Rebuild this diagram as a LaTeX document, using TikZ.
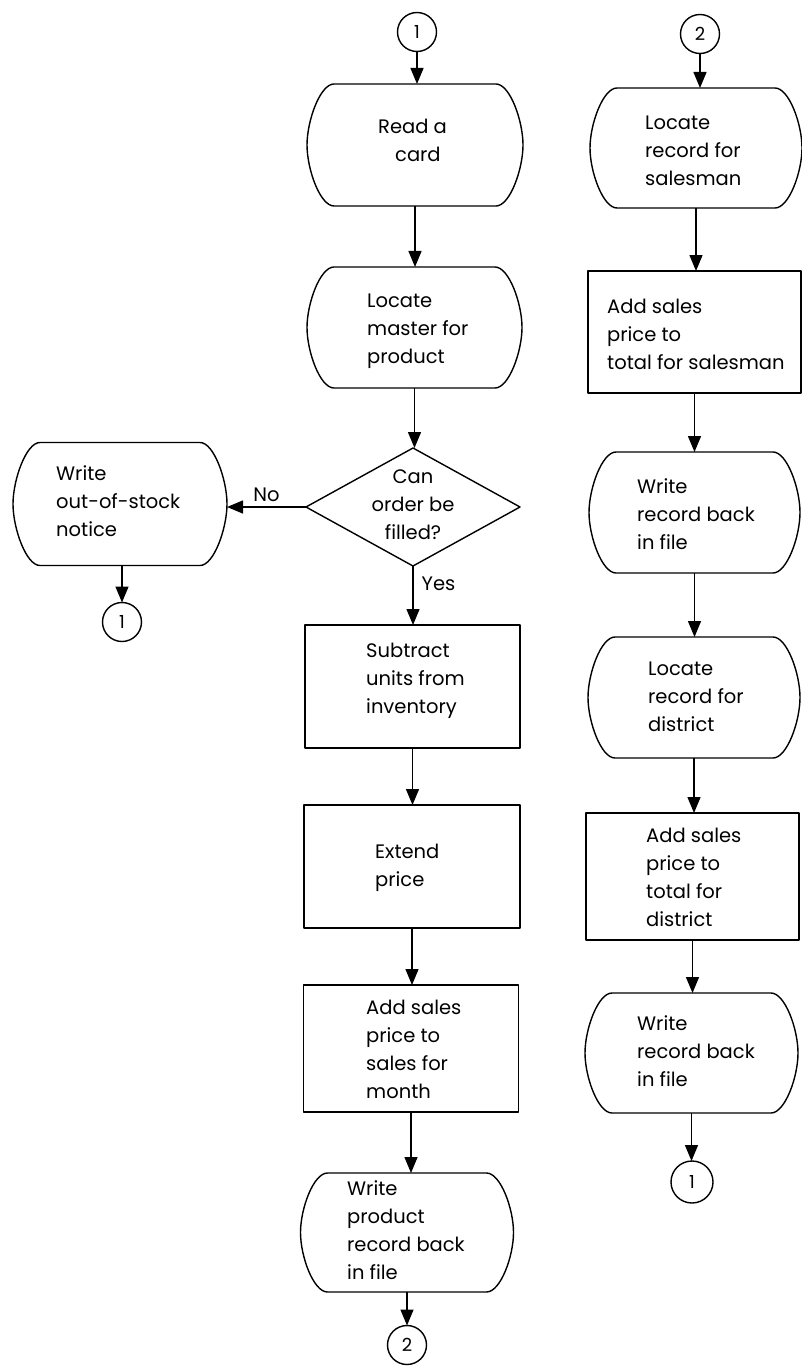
\documentclass[tikz,border=0pt]{standalone}
\usepackage{fontspec}
\setmainfont{Poppins}
\usetikzlibrary{arrows.meta,calc,shapes.geometric}

% outline of a storage step: flat top and bottom, bowed sides
\newcommand\bowsides[1]{%
  \draw[base]
    ($(#1.north west)+(27,0)$) -- ($(#1.north east)+(-27,0)$)
    .. controls ($(#1.north east)+(-13,0)$) and ($(#1.east)+(0,-24)$) .. (#1.east)
    .. controls ($(#1.east)+(0,24)$) and ($(#1.south east)+(-13,0)$) .. ($(#1.south east)+(-27,0)$)
    -- ($(#1.south west)+(27,0)$)
    .. controls ($(#1.south west)+(13,0)$) and ($(#1.west)+(0,24)$) .. (#1.west)
    .. controls ($(#1.west)+(0,-24)$) and ($(#1.north west)+(13,0)$) .. cycle;}

\begin{document}
\begin{tikzpicture}[x=1pt,y=-1pt,
  base/.style={line width=1.4pt,line join=round},
  io/.style 2 args={minimum width=#1, minimum height=#2, inner sep=0, outer sep=0},
  proc/.style 2 args={draw, base, minimum width=#1, minimum height=#2, inner sep=0, outer sep=0},
  decide/.style={draw, base, diamond, aspect=1.81, minimum width=214, minimum height=118, inner sep=0, outer sep=0},
  conn/.style={draw, base, circle, minimum size=#1, inner sep=0, outer sep=0, font=\fontsize{18}{20}\selectfont},
  conn/.default=39,
  arr/.style={base, -{Triangle[length=16pt,width=13pt]}},
  txt/.style={anchor=base west, inner sep=0, font=\fontsize{19.5}{28}\selectfont},
  lbl/.style={inner sep=0, font=\fontsize{19.5}{28}\selectfont},
]
\useasboundingbox (0,0) rectangle (802,1372);
\fill[white] (0,0) rectangle (802,1372);

% ---- product column ----
\node[conn] (c1top) at (417,32) {1};
\node[io={216}{122}] (read) at (415,145) {};
\bowsides{read}
\node[txt] (tread) at (378,134) {\begin{tabular}[t]{@{}l@{}}Read a\\\hspace{17pt}card\end{tabular}};

\node[io={215}{121}] (locm) at (414.5,327.5) {};
\bowsides{locm}
\node[txt] (tlocm) at (367,307) {\begin{tabular}[t]{@{}l@{}}Locate\\master for\\product\end{tabular}};

\node[decide] (dec) at (413,507) {};
\node[txt,anchor=base] (tdec) at (413,483) {\begin{tabular}[t]{@{}c@{}}Can\\order be\\filled?\end{tabular}};

\node[io={214}{123}] (oos) at (120,504) {};
\bowsides{oos}
\node[txt] (toos) at (56,480) {\begin{tabular}[t]{@{}l@{}}Write\\out-of-stock\\notice\end{tabular}};
\node[conn] (c1left) at (122,622) {1};

\node[proc={215}{123}] (sub) at (412.5,686.5) {};
\node[txt] (tsub) at (366,657) {\begin{tabular}[t]{@{}l@{}}Subtract\\units from\\inventory\end{tabular}};

\node[proc={216}{123}] (ext) at (412,866.5) {};
\node[txt] (text) at (375,858) {\begin{tabular}[t]{@{}l@{}}Extend\\price\end{tabular}};

\node[proc={215}{127}] (addm) at (411,1048.5) {};
\node[txt] (taddm) at (366,1014) {\begin{tabular}[t]{@{}l@{}}Add sales\\price to\\sales for\\month\end{tabular}};

\node[io={213}{119}] (wprod) at (407,1232.5) {};
\bowsides{wprod}
\node[txt] (twprod) at (347,1195) {\begin{tabular}[t]{@{}l@{}}Write\\product\\record back\\in file\end{tabular}};
\node[conn] (c2bot) at (407,1345) {2};

% ---- totals column ----
\node[conn] (c2top) at (700,34) {2};
\node[io={212}{120}] (locs) at (696,148) {};
\bowsides{locs}
\node[txt] (tlocs) at (645,130) {\begin{tabular}[t]{@{}l@{}}Locate\\record for\\salesman\end{tabular}};

\node[proc={213}{122}] (adds) at (694.5,332) {};
\node[txt] (tadds) at (607,313) {\begin{tabular}[t]{@{}l@{}}Add sales\\price to\\total for salesman\end{tabular}};

\node[io={211}{121}] (wr1) at (694.5,512.5) {};
\bowsides{wr1}
\node[txt] (twr1) at (637,493) {\begin{tabular}[t]{@{}l@{}}Write\\record back\\in file\end{tabular}};

\node[io={212}{121}] (locd) at (694,697.5) {};
\bowsides{locd}
\node[txt] (tlocd) at (648,675) {\begin{tabular}[t]{@{}l@{}}Locate\\record for\\district\end{tabular}};

\node[proc={213}{127}] (addd) at (692.5,876.5) {};
\node[txt] (taddd) at (646,842) {\begin{tabular}[t]{@{}l@{}}Add sales\\price to\\total for\\district\end{tabular}};

\node[io={213}{120}] (wr2) at (691.5,1053) {};
\bowsides{wr2}
\node[txt] (twr2) at (637,1030) {\begin{tabular}[t]{@{}l@{}}Write\\record back\\in file\end{tabular}};
\node[conn=42] (c1right) at (692,1182) {1};

% ---- flow lines ----
\draw[arr] (c1top.south) -- (c1top.south |- read.north);
\draw[arr] (read.south) -- (read.south |- locm.north);
\draw[arr] (locm.south) -- (locm.south |- dec.north);
\draw[arr] (dec.west) -- node[lbl, above=5pt, pos=0.5] (lno) {No} (dec.west -| oos.east);
\draw[arr] (oos.south -| c1left) -- (c1left.north);
\draw[arr] (dec.south) -- node[lbl, anchor=west, pos=0.3, xshift=8pt] (lyes) {Yes} (dec.south |- sub.north);
\draw[arr] (sub.south) -- (sub.south |- ext.north);
\draw[arr] (ext.south) -- (ext.south |- addm.north);
\draw[arr] (addm.south) -- (addm.south |- wprod.north);
\draw[arr] (wprod.south) -- (wprod.south |- c2bot.north);

\draw[arr] (c2top.south) -- (c2top.south |- locs.north);
\draw[arr] (locs.south) -- (locs.south |- adds.north);
\draw[arr] (adds.south) -- (adds.south |- wr1.north);
\draw[arr] (wr1.south) -- (wr1.south |- locd.north);
\draw[arr] (locd.south) -- (locd.south |- addd.north);
\draw[arr] (addd.south) -- (addd.south |- wr2.north);
\draw[arr] (wr2.south) -- (wr2.south |- c1right.north);
\end{tikzpicture}
\end{document}
